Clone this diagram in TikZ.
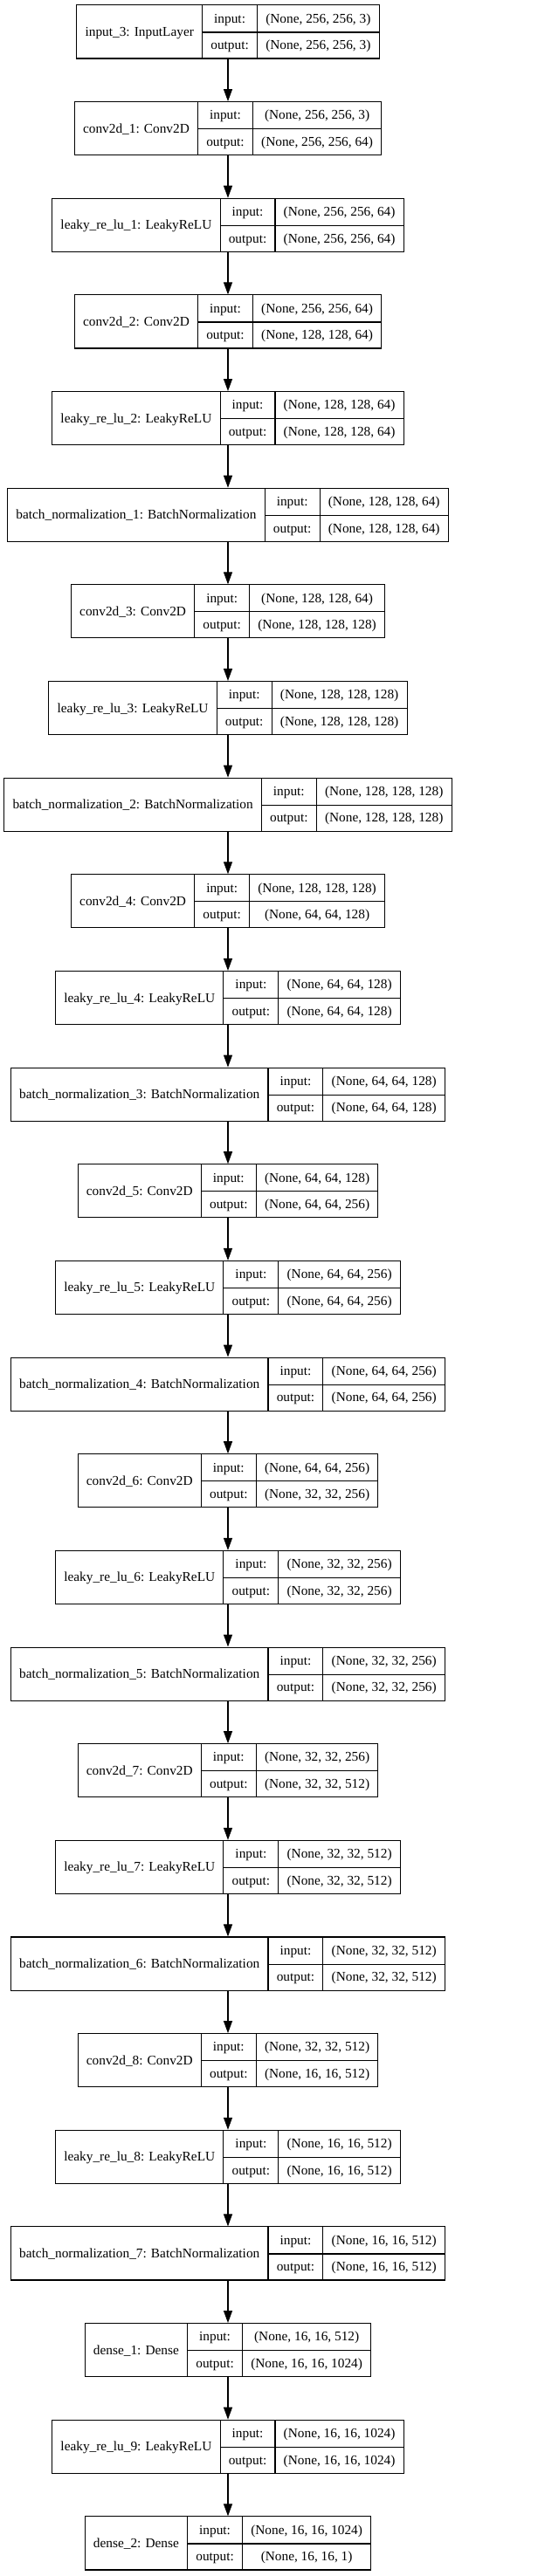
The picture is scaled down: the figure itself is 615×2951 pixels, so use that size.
\documentclass[tikz,border=0pt]{standalone}
\usepackage{fontspec}
\setmainfont{Liberation Serif}
\usetikzlibrary{arrows.meta}
\setlength{\arrayrulewidth}{0.8pt}
\setlength{\tabcolsep}{7.3pt}
% one keras layer: name | input:/output: | shapes
\newcommand{\rec}[3]{%
  \begin{tabular}{c|c|c}
  \raisebox{-11.45pt}[0pt][0pt]{#1} & input: & #2\rule[-7.7pt]{0pt}{22.9pt}\\ \cline{2-3}
  & output: & #3\rule[-7.7pt]{0pt}{22.9pt}
  \end{tabular}}
\begin{document}
\begin{tikzpicture}[x=0.75pt,y=-0.75pt,
  layer/.style={draw,line width=0.8pt,inner sep=0pt,fill=white,
    font=\fontsize{11.5}{13.8}\selectfont},
  flow/.style={line width=0.8pt,-{Triangle[length=10.5pt,width=7.5pt]}}]
\useasboundingbox[fill=white] (0,0) rectangle (615,2951);
\node[layer] (input3) at (261,36.5) {\rec{input\_3: InputLayer}{(None, 256, 256, 3)}{(None, 256, 256, 3)}};
\node[layer] (conv1) at (261,147.15) {\rec{conv2d\_1: Conv2D}{(None, 256, 256, 3)}{(None, 256, 256, 64)}};
\node[layer] (lrelu1) at (261,257.8) {\rec{leaky\_re\_lu\_1: LeakyReLU}{(None, 256, 256, 64)}{(None, 256, 256, 64)}};
\node[layer] (conv2) at (261,368.45) {\rec{conv2d\_2: Conv2D}{(None, 256, 256, 64)}{(None, 128, 128, 64)}};
\node[layer] (lrelu2) at (261,479.1) {\rec{leaky\_re\_lu\_2: LeakyReLU}{(None, 128, 128, 64)}{(None, 128, 128, 64)}};
\node[layer] (bn1) at (261,589.75) {\rec{batch\_normalization\_1: BatchNormalization}{(None, 128, 128, 64)}{(None, 128, 128, 64)}};
\node[layer] (conv3) at (261,700.4) {\rec{conv2d\_3: Conv2D}{(None, 128, 128, 64)}{(None, 128, 128, 128)}};
\node[layer] (lrelu3) at (261,811.05) {\rec{leaky\_re\_lu\_3: LeakyReLU}{(None, 128, 128, 128)}{(None, 128, 128, 128)}};
\node[layer] (bn2) at (261,921.7) {\rec{batch\_normalization\_2: BatchNormalization}{(None, 128, 128, 128)}{(None, 128, 128, 128)}};
\node[layer] (conv4) at (261,1032.35) {\rec{conv2d\_4: Conv2D}{(None, 128, 128, 128)}{(None, 64, 64, 128)}};
\node[layer] (lrelu4) at (261,1143) {\rec{leaky\_re\_lu\_4: LeakyReLU}{(None, 64, 64, 128)}{(None, 64, 64, 128)}};
\node[layer] (bn3) at (261,1253.65) {\rec{batch\_normalization\_3: BatchNormalization}{(None, 64, 64, 128)}{(None, 64, 64, 128)}};
\node[layer] (conv5) at (261,1364.3) {\rec{conv2d\_5: Conv2D}{(None, 64, 64, 128)}{(None, 64, 64, 256)}};
\node[layer] (lrelu5) at (261,1474.95) {\rec{leaky\_re\_lu\_5: LeakyReLU}{(None, 64, 64, 256)}{(None, 64, 64, 256)}};
\node[layer] (bn4) at (261,1585.6) {\rec{batch\_normalization\_4: BatchNormalization}{(None, 64, 64, 256)}{(None, 64, 64, 256)}};
\node[layer] (conv6) at (261,1696.25) {\rec{conv2d\_6: Conv2D}{(None, 64, 64, 256)}{(None, 32, 32, 256)}};
\node[layer] (lrelu6) at (261,1806.9) {\rec{leaky\_re\_lu\_6: LeakyReLU}{(None, 32, 32, 256)}{(None, 32, 32, 256)}};
\node[layer] (bn5) at (261,1917.55) {\rec{batch\_normalization\_5: BatchNormalization}{(None, 32, 32, 256)}{(None, 32, 32, 256)}};
\node[layer] (conv7) at (261,2028.2) {\rec{conv2d\_7: Conv2D}{(None, 32, 32, 256)}{(None, 32, 32, 512)}};
\node[layer] (lrelu7) at (261,2138.85) {\rec{leaky\_re\_lu\_7: LeakyReLU}{(None, 32, 32, 512)}{(None, 32, 32, 512)}};
\node[layer] (bn6) at (261,2249.5) {\rec{batch\_normalization\_6: BatchNormalization}{(None, 32, 32, 512)}{(None, 32, 32, 512)}};
\node[layer] (conv8) at (261,2360.15) {\rec{conv2d\_8: Conv2D}{(None, 32, 32, 512)}{(None, 16, 16, 512)}};
\node[layer] (lrelu8) at (261,2470.8) {\rec{leaky\_re\_lu\_8: LeakyReLU}{(None, 16, 16, 512)}{(None, 16, 16, 512)}};
\node[layer] (bn7) at (261,2581.45) {\rec{batch\_normalization\_7: BatchNormalization}{(None, 16, 16, 512)}{(None, 16, 16, 512)}};
\node[layer] (dense1) at (261,2692.1) {\rec{dense\_1: Dense}{(None, 16, 16, 512)}{(None, 16, 16, 1024)}};
\node[layer] (lrelu9) at (261,2802.75) {\rec{leaky\_re\_lu\_9: LeakyReLU}{(None, 16, 16, 1024)}{(None, 16, 16, 1024)}};
\node[layer] (dense2) at (261,2913.4) {\rec{dense\_2: Dense}{(None, 16, 16, 1024)}{(None, 16, 16, 1)}};
\foreach \a/\b in {input3/conv1,conv1/lrelu1,lrelu1/conv2,conv2/lrelu2,lrelu2/bn1,
  bn1/conv3,conv3/lrelu3,lrelu3/bn2,bn2/conv4,conv4/lrelu4,lrelu4/bn3,
  bn3/conv5,conv5/lrelu5,lrelu5/bn4,bn4/conv6,conv6/lrelu6,lrelu6/bn5,
  bn5/conv7,conv7/lrelu7,lrelu7/bn6,bn6/conv8,conv8/lrelu8,lrelu8/bn7,
  bn7/dense1,dense1/lrelu9,lrelu9/dense2}
  \draw[flow] (\a) -- (\b);
\end{tikzpicture}
\end{document}
